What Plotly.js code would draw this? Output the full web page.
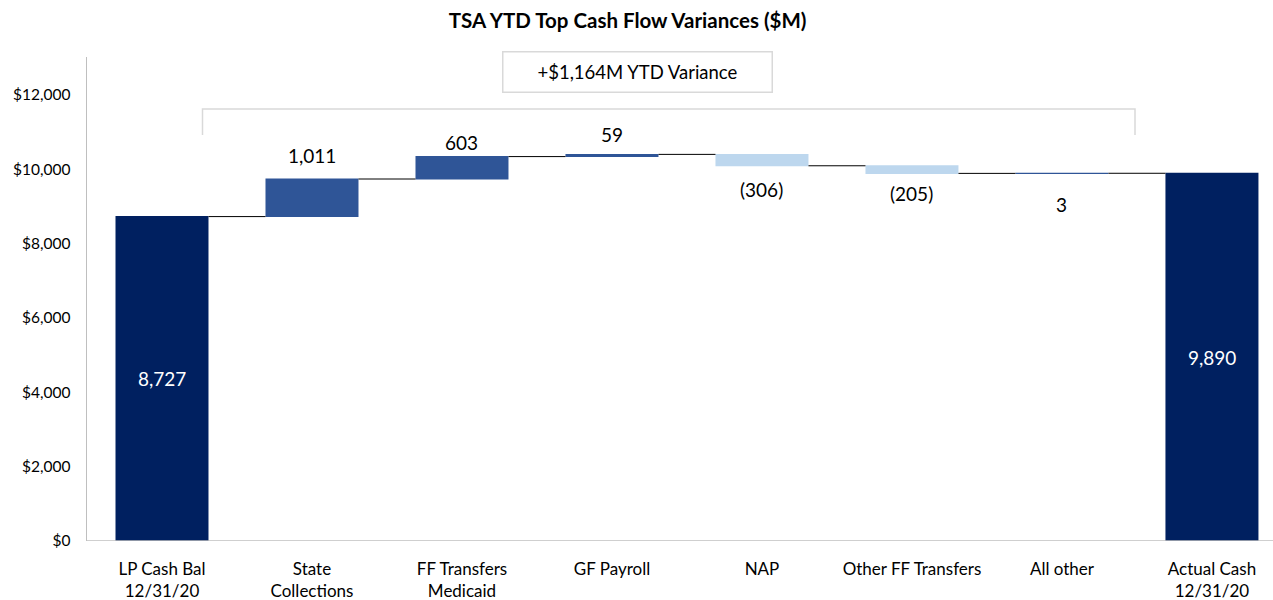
<!DOCTYPE html>
<html>
<head>
<meta charset="utf-8">
<script src="https://cdn.plot.ly/plotly-3.0.1.min.js"></script>
<style>html,body{margin:0;padding:0;background:#fff;}#chart{width:1273px;height:600px;}</style>
</head>
<body>
<div id="chart"></div>
<script>
var categories = ["LP Cash Bal<br>12/31/20", "State<br>Collections", "FF Transfers<br>Medicaid", "GF Payroll", "NAP", "Other FF Transfers", "All other", "Actual Cash<br>12/31/20"];
var measures = ["absolute", "relative", "relative", "relative", "relative", "relative", "relative", "absolute"];
var values = [8727, 1011, 603, 59, -306, -205, 3, 9890];
var labels = ["8,727", "1,011", "603", "59", "(306)", "(205)", "3", "9,890"];
var yTickVals = [0, 2000, 4000, 6000, 8000, 10000, 12000];
var yTickText = ["$0", "$2,000", "$4,000", "$6,000", "$8,000", "$10,000", "$12,000"];
var varianceText = "+$1,164M YTD Variance";
var titleText = "TSA YTD Top Cash Flow Variances ($M)";

var FONT = "Lato, 'Open Sans', sans-serif";

var trace = {
  type: "waterfall",
  x: categories.map(function(c, i){ return i; }),
  measure: measures,
  y: values,
  width: 0.62,
  text: labels,
  textposition: "none",
  hoverinfo: "none",
  totals: {marker: {color: "#002060"}},
  increasing: {marker: {color: "#2F5597"}},
  decreasing: {marker: {color: "#BDD7EE"}},
  connector: {mode: "between", line: {color: "#000", width: 1}}
};

var annotations = [];
var cum = 0;
var labelOffsets = [0, 24, 14, 20, 24, 20, 31, 0];
for (var i = 0; i < values.length; i++) {
  var lo, hi;
  if (measures[i] === "absolute") { lo = 0; hi = values[i]; cum = values[i]; }
  else { lo = Math.min(cum, cum + values[i]); hi = Math.max(cum, cum + values[i]); cum += values[i]; }
  if (measures[i] === "absolute") {
    annotations.push({x: i, y: hi / 2, xref: "x", yref: "y", text: labels[i], showarrow: false,
      font: {family: FONT, size: 19, color: "#fff"}});
  } else if (values[i] > 3) {
    annotations.push({x: i, y: hi, xref: "x", yref: "y", text: labels[i], showarrow: false,
      yshift: labelOffsets[i], font: {family: FONT, size: 19, color: "#000"}});
  } else {
    annotations.push({x: i, y: lo, xref: "x", yref: "y", text: labels[i], showarrow: false,
      yshift: -labelOffsets[i], font: {family: FONT, size: 19, color: "#000"}});
  }
}
annotations.push({x: 3.173, y: 12604, xref: "x", yref: "y", text: varianceText, showarrow: false,
  font: {family: FONT, size: 18.5, color: "#000"}, bordercolor: "#d9d9d9", borderwidth: 1.5,
  bgcolor: "#fff", width: 266, height: 37});

var shapes = [
  {type: "path", xref: "x", yref: "y", path: "M 0.27 10923 L 0.27 11622 L 6.487 11622 L 6.487 10923",
   line: {color: "#d9d9d9", width: 1.5}},
  {type: "line", xref: "paper", yref: "y", x0: 0, x1: 1, y0: 0, y1: 0,
   line: {color: "#bfbfbf", width: 1.5}}
];

var layout = {
  width: 1273, height: 600,
  margin: {l: 87, r: 0, t: 57, b: 59},
  paper_bgcolor: "#fff", plot_bgcolor: "#fff",
  showlegend: false,
  title: {text: "<b>" + titleText + "</b>", x: 0.493, xanchor: "center", y: 0.965, yanchor: "middle",
    font: {family: FONT, size: 20.5, color: "#000"}},
  xaxis: {range: [-0.5, 7.407], tickmode: "array", tickvals: categories.map(function(c, i){ return i; }),
    ticktext: categories, showgrid: false, zeroline: false, showline: false, ticks: "",
    tickfont: {family: FONT, size: 17, color: "#000"}, ticklabelstandoff: 16, fixedrange: true},
  yaxis: {range: [0, 13020], tickmode: "array", tickvals: yTickVals, ticktext: yTickText,
    showgrid: false, zeroline: false, showline: true, linecolor: "#bfbfbf", linewidth: 1.5, ticks: "",
    tickfont: {family: FONT, size: 15.5, color: "#000"}, ticklabelstandoff: 12},
  annotations: annotations,
  shapes: shapes
};

Plotly.newPlot("chart", [trace], layout, {displayModeBar: false, staticPlot: true});
</script>
</body>
</html>
